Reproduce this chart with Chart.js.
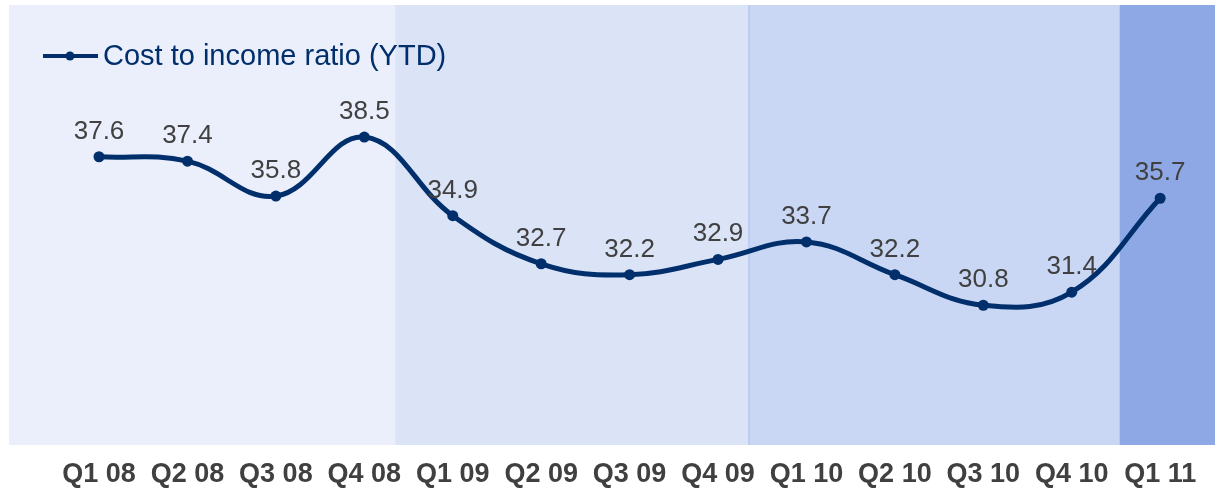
<!DOCTYPE html>
<html>
<head>
<meta charset="utf-8">
<script src="https://cdn.jsdelivr.net/npm/chart.js@4/dist/chart.umd.min.js"></script>
<style>
  html, body { margin: 0; padding: 0; background: #fff; }
  #wrap { width: 1215px; height: 488px; }
</style>
</head>
<body>
<div id="wrap"><canvas id="ratioChart" width="1215" height="488"></canvas></div>
<script>
const quarters = ['Q1 08', 'Q2 08', 'Q3 08', 'Q4 08', 'Q1 09', 'Q2 09', 'Q3 09', 'Q4 09', 'Q1 10', 'Q2 10', 'Q3 10', 'Q4 10', 'Q1 11'];
const costIncome = [37.6, 37.4, 35.8, 38.5, 34.9, 32.7, 32.2, 32.9, 33.7, 32.2, 30.8, 31.4, 35.7];
const seriesName = 'Cost to income ratio (YTD)';

// background bands, in quarter-index units
const bandEdges = [3.35, 7.35, 11.54];
const bandColors = ['#ebeffb', '#dbe3f7', '#c9d7f5', '#8ea8e5'];

const lineColor = '#002f6b';

// shaded year bands behind the line
const bandsPlugin = {
  id: 'bands',
  beforeDatasetsDraw(chart) {
    const { ctx, chartArea: a, scales: { x } } = chart;
    const edges = [a.left, ...bandEdges.map(v => x.getPixelForValue(v)), a.right];
    ctx.save();
    for (let i = 0; i < bandColors.length; i++) {
      ctx.fillStyle = bandColors[i];
      ctx.fillRect(edges[i], a.top, edges[i + 1] - edges[i], a.bottom - a.top);
    }
    // thin divider between 09 and 10
    ctx.fillStyle = '#bccdf3';
    ctx.fillRect(edges[2] - 1, a.top, 2, a.bottom - a.top);
    ctx.restore();
  }
};

// value labels above each point + legend
const labelsPlugin = {
  id: 'valueLabels',
  afterDraw(chart) {
    const { ctx } = chart;
    const meta = chart.getDatasetMeta(0);
    ctx.save();
    ctx.font = '26px "Liberation Sans", Arial, sans-serif';
    ctx.fillStyle = '#404040';
    ctx.textAlign = 'center';
    ctx.textBaseline = 'alphabetic';
    meta.data.forEach((pt, i) => {
      ctx.fillText(costIncome[i].toFixed(1), pt.x, pt.y - 18);
    });

    // legend
    const ly = 56;
    ctx.strokeStyle = lineColor;
    ctx.lineWidth = 4;
    ctx.beginPath();
    ctx.moveTo(43, ly);
    ctx.lineTo(98, ly);
    ctx.stroke();
    ctx.fillStyle = lineColor;
    ctx.beginPath();
    ctx.arc(70, ly, 4.5, 0, Math.PI * 2);
    ctx.fill();
    ctx.font = '29px "Liberation Sans", Arial, sans-serif';
    ctx.textAlign = 'left';
    ctx.textBaseline = 'middle';
    ctx.fillText(seriesName, 103, ly + 1);
    ctx.restore();
  }
};

const ctx = document.getElementById('ratioChart').getContext('2d');
new Chart(ctx, {
  type: 'line',
  data: {
    datasets: [{
      label: seriesName,
      data: costIncome.map((v, i) => ({ x: i, y: v })),
      borderColor: lineColor,
      backgroundColor: lineColor,
      borderWidth: 5,
      pointRadius: 5.5,
      pointHoverRadius: 5.5,
      pointBackgroundColor: lineColor,
      pointBorderWidth: 0,
      tension: 0.4,
      fill: false,
      clip: false
    }]
  },
  options: {
    responsive: false,
    animation: false,
    layout: { autoPadding: false, padding: { left: 9, top: 5, right: 0, bottom: 0 } },
    plugins: {
      legend: { display: false },
      tooltip: { enabled: false }
    },
    scales: {
      x: {
        type: 'linear',
        min: -1.018,
        max: 12.62,
        grid: { display: false, drawTicks: false },
        border: { display: false },
        afterBuildTicks(scale) {
          scale.ticks = quarters.map((q, i) => ({ value: i }));
        },
        afterFit(scale) {
          scale.height = 43;
          scale.paddingLeft = 0;
          scale.paddingRight = 0;
        },
        ticks: {
          autoSkip: false,
          maxRotation: 0,
          padding: 13,
          color: '#404040',
          font: { family: '"Liberation Sans", Arial, sans-serif', size: 27, weight: 'bold' },
          callback: v => quarters[v]
        }
      },
      y: {
        display: false,
        min: 24.4,
        max: 44.55
      }
    }
  },
  plugins: [bandsPlugin, labelsPlugin]
});
</script>
</body>
</html>
